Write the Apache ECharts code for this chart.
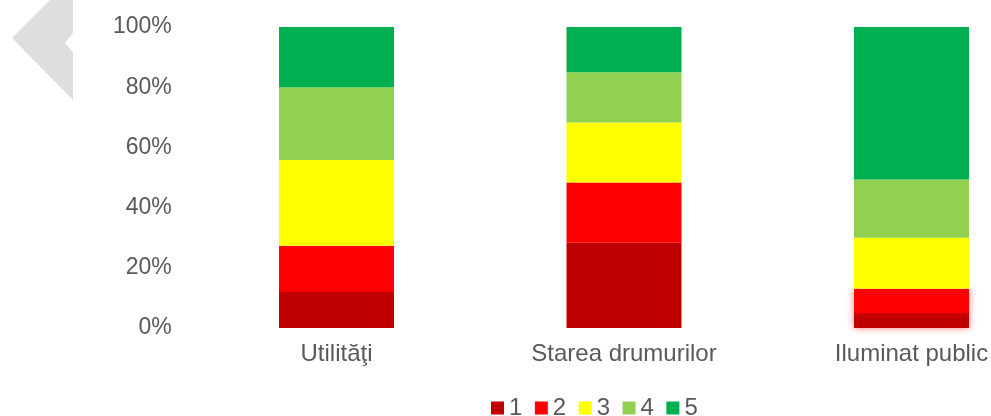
<!DOCTYPE html>
<html>
<head>
<meta charset="utf-8">
<script src="https://cdn.jsdelivr.net/npm/echarts@6/dist/echarts.min.js"></script>
<style>
html,body{margin:0;padding:0;background:#fff;}
#chart{width:991px;height:416px;}
</style>
</head>
<body>
<div id="chart"></div>
<script>
const categories = ['Utilităţi', 'Starea drumurilor', 'Iluminat public'];
const seriesNames = ['1', '2', '3', '4', '5'];
const s1 = [12.0, 28.3, 5.0];
const s2 = [15.3, 20.0, 8.0];
const s3 = [28.5, 20.0, 17.0];
const s4 = [24.2, 16.7, 19.3];
const s5 = [20.0, 15.0, 50.7];
const yTicks = [0, 20, 40, 60, 80, 100];

const colors = ['#C00000', '#FF0000', '#FFFF00', '#92D050', '#00B050'];
const seriesData = [s1, s2, s3, s4, s5];
const textColor = '#595959';
const font = "'Liberation Sans', Arial, sans-serif";

const chart = echarts.init(document.getElementById('chart'), null, {renderer: 'canvas'});

const series = seriesData.map((arr, i) => ({
  name: seriesNames[i],
  type: 'bar',
  stack: 'total',
  barWidth: '40%',
  itemStyle: {color: colors[i]},
  emphasis: {disabled: true},
  data: arr.map((v, j) => {
    if (j === 2 && i < 2) {
      return {value: v, itemStyle: {color: colors[i], shadowColor: 'rgba(255,0,0,0.55)', shadowBlur: 7}};
    }
    return v;
  })
}));

chart.setOption({
  animation: false,
  backgroundColor: '#ffffff',
  textStyle: {fontFamily: font},
  graphic: [{
    type: 'polygon',
    z: -10,
    shape: {points: [[50, 0], [73, 0], [73, 33], [65, 43], [73, 52], [73, 100], [12, 38]]},
    style: {fill: '#DEDEDE'}
  }],
  legend: {
    data: seriesNames,
    left: 491,
    top: 396,
    icon: 'rect',
    itemWidth: 13,
    itemHeight: 13,
    itemGap: 12.5,
    padding: 0,
    textStyle: {color: textColor, fontSize: 24, fontFamily: font, padding: [0, 0, 0, 0]},
    selectedMode: false
  },
  grid: {left: 192.75, right: -64.25, top: 27, bottom: 88, containLabel: false, outerBoundsMode: 'none'},
  xAxis: {
    type: 'category',
    data: categories,
    axisLine: {show: false},
    axisTick: {show: false},
    axisLabel: {color: textColor, fontSize: 24, fontFamily: font, margin: 14}
  },
  yAxis: {
    type: 'value',
    min: yTicks[0],
    max: yTicks[yTicks.length - 1],
    interval: 20,
    splitLine: {show: false},
    axisLine: {show: false},
    axisTick: {show: false},
    axisLabel: {color: textColor, fontSize: 23, fontFamily: font, margin: 21, formatter: '{value}%'}
  },
  series: series
});
</script>
</body>
</html>
